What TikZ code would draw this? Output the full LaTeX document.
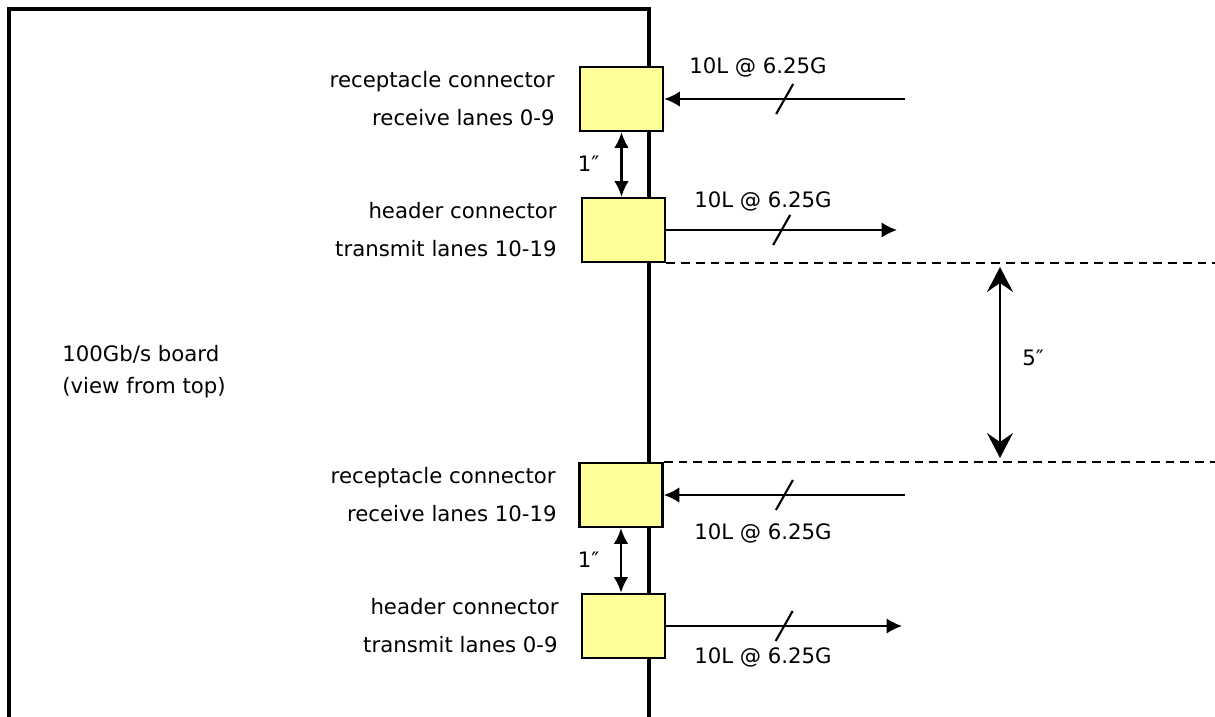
\documentclass[tikz,border=0pt]{standalone}
\usepackage{fontspec}
\setmainfont{DejaVu Sans}
\usetikzlibrary{arrows.meta,calc}
\tikzset{>=Latex}
\definecolor{connyellow}{RGB}{255,255,153}

\tikzset{
  conn/.style={draw, line width=1.5pt, fill=connyellow, minimum width=1.66cm, minimum height=1.28cm, inner sep=0pt},
  lane/.style={line width=1.2pt, -{Latex[length=3.1mm,width=3.1mm]}},
  gap/.style={line width=1.2pt, {Latex[length=3.1mm,width=2.9mm]}-{Latex[length=3.1mm,width=2.9mm]}},
  biggap/.style={line width=1.2pt, {Stealth[length=5mm,width=5.2mm,inset=1.8mm]}-{Stealth[length=5mm,width=5.2mm,inset=1.8mm]}},
  edgeline/.style={line width=1.1pt, dash pattern=on 5pt off 3.4pt},
  txt/.style={inner sep=0pt, font=\fontsize{12.1}{14}\selectfont},
}
\newcommand{\lanemark}[1]{\draw[line width=1.2pt] ($(#1)+(-8.5,15)$) -- ++(17,-30);}

\begin{document}
\begin{tikzpicture}[x=0.02cm, y=-0.02cm]
\useasboundingbox (0,0) rectangle (1215,717);

% board outline
\draw[line width=2.6pt] (9,717) -- (9,9) -- (649,9) -- (649,717);
\node[txt, anchor=base west] (brd) at (62,361) {100Gb/s board};
\node[txt, anchor=base west] (view) at (62,393) {(view from top)};

% connectors
\node[conn] (rxa) at (621.5,99) {};
\node[conn] (txa) at (623.5,230) {};
\node[conn] (rxb) at (621,495) {};
\node[conn] (txb) at (623.5,626) {};

\node[txt, anchor=base east] (rxaname) at (555,87) {receptacle connector};
\node[txt, anchor=base east] (rxalanes) at (555,125) {receive lanes 0-9};
\node[txt, anchor=base east] (txaname) at (557,218) {header connector};
\node[txt, anchor=base east] (txalanes) at (557,256) {transmit lanes 10-19};
\node[txt, anchor=base east] (rxbname) at (556,483) {receptacle connector};
\node[txt, anchor=base east] (rxblanes) at (557,521) {receive lanes 10-19};
\node[txt, anchor=base east] (txbname) at (559,614) {header connector};
\node[txt, anchor=base east] (txblanes) at (558,652) {transmit lanes 0-9};

% lanes
\coordinate (rxain) at (905,99);
\coordinate (txaout) at (897,230);
\coordinate (rxbin) at (905,495);
\coordinate (txbout) at (902,626);

\draw[lane] (rxain) -- (rxa.east) coordinate[midway] (rxamid);
\lanemark{rxamid}
\node[txt, anchor=base] (rxarate) at (758,73) {10L @ 6.25G};

\draw[lane] (txa.east) -- (txaout) coordinate[midway] (txamid);
\lanemark{txamid}
\node[txt, anchor=base] (txarate) at (763,207) {10L @ 6.25G};

\draw[lane] (rxbin) -- (rxb.east) coordinate[midway] (rxbmid);
\lanemark{rxbmid}
\node[txt, anchor=base] (rxbrate) at (763,539) {10L @ 6.25G};

\draw[lane] (txb.east) -- (txbout) coordinate[midway] (txbmid);
\lanemark{txbmid}
\node[txt, anchor=base] (txbrate) at (763,663) {10L @ 6.25G};

% spacing
\draw[gap] (rxa.south) -- (rxa.south |- txa.north);
\node[txt, anchor=base] (pitcha) at (588.5,171) {1″};
\draw[gap] (rxb.south) -- (rxb.south |- txb.north);
\node[txt, anchor=base] (pitchb) at (588.5,567) {1″};

\coordinate (edge) at (1215,0);
\draw[edgeline] (txa.south east) -- (txa.south east -| edge);
\draw[edgeline] (rxb.north east) -- (rxb.north east -| edge);

\coordinate (fivetop) at (1000,267);
\coordinate (fivebot) at (1000,458);
\draw[biggap] (fivetop) -- (fivebot);
\node[txt, anchor=base west] (five) at (1022,365) {5″};
\end{tikzpicture}
\end{document}
